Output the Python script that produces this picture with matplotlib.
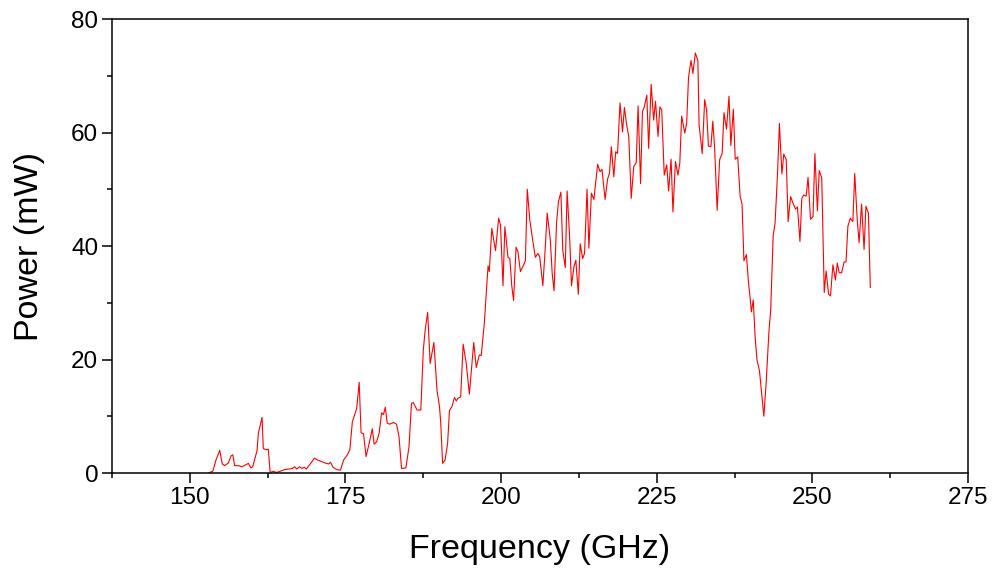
import matplotlib as mpl
import matplotlib.pyplot as plt
from matplotlib.ticker import MultipleLocator

mpl.rcParams.update(
    {
        "font.family": ["Liberation Sans", "DejaVu Sans"],
        "axes.linewidth": 1.1,
    }
)

# frequency (GHz) and power (mW)
freq = [
    153.1, 153.7, 154.2, 154.8, 155.2, 155.6, 156.2, 156.6, 156.9, 157.2,
    157.8, 158.4, 158.9, 159.4, 159.8, 160.1, 160.8, 161.0, 161.6, 161.8,
    162.3, 162.6, 162.9, 163.4, 163.9, 164.5, 165.2, 165.9, 166.5, 166.8,
    167.2, 167.6, 168.0, 168.4, 168.7, 169.2, 169.6, 170.0, 170.5, 171.2,
    171.9, 172.3, 172.6, 173.0, 173.6, 174.2, 174.7, 175.3, 175.7, 176.1,
    176.8, 177.2, 177.5, 177.9, 178.3, 178.8, 179.3, 179.6, 180.0, 180.4,
    180.8, 181.1, 181.4, 181.7, 182.1, 182.7, 183.2, 183.6, 184.0, 184.7,
    185.2, 185.6, 185.9, 186.5, 187.1, 187.5, 187.8, 188.2, 188.6, 188.8,
    189.2, 189.7, 190.1, 190.3, 190.6, 191.0, 191.4, 191.7, 192.1, 192.5,
    192.8, 193.1, 193.5, 193.9, 194.4, 194.9, 195.6, 196.0, 196.5, 196.8,
    197.3, 197.9, 198.1, 198.5, 199.1, 199.6, 199.9, 200.3, 200.6, 201.1,
    201.4, 201.7, 202.0, 202.4, 202.7, 203.1, 203.5, 203.9, 204.2, 204.6,
    205.1, 205.5, 205.9, 206.2, 206.7, 207.0, 207.4, 207.9, 208.2, 208.5,
    208.9, 209.2, 209.6, 209.9, 210.3, 210.6, 211.0, 211.3, 211.7, 212.0,
    212.4, 212.7, 213.1, 213.4, 213.8, 214.1, 214.5, 214.9, 215.5, 215.9,
    216.2, 216.7, 217.1, 217.4, 217.7, 218.1, 218.4, 218.7, 219.1, 219.5,
    219.8, 220.2, 220.5, 220.9, 221.3, 221.7, 222.0, 222.4, 222.7, 223.0,
    223.4, 223.7, 224.1, 224.5, 224.8, 225.2, 225.5, 225.8, 226.2, 226.6,
    226.9, 227.3, 227.6, 228.0, 228.4, 228.7, 229.0, 229.5, 229.8, 230.1,
    230.5, 230.8, 231.2, 231.6, 231.8, 232.3, 232.7, 233.0, 233.3, 233.7,
    234.0, 234.3, 234.5, 234.7, 235.1, 235.5, 235.8, 236.2, 236.6, 236.9,
    237.3, 237.6, 238.0, 238.4, 238.7, 239.0, 239.4, 239.7, 240.0, 240.2,
    240.5, 240.8, 241.1, 241.5, 242.2, 242.6, 243.0, 243.3, 243.7, 244.0,
    244.4, 244.7, 245.1, 245.4, 245.8, 246.1, 246.5, 246.9, 247.3, 247.6,
    248.0, 248.3, 248.6, 249.0, 249.3, 249.7, 250.1, 250.4, 250.8, 251.1,
    251.5, 251.9, 252.2, 252.6, 252.9, 253.3, 253.7, 254.0, 254.3, 254.7,
    255.1, 255.4, 255.7, 256.1, 256.5, 256.8, 257.2, 257.5, 257.9, 258.3,
    258.6, 259.0, 259.3,
]
power = [
    0.05, 0.35, 2.3, 4.0, 1.6, 1.3, 1.8, 3.0, 3.2, 1.3,
    1.3, 1.1, 1.4, 1.7, 0.9, 1.1, 4.0, 7.0, 9.8, 4.3,
    4.1, 4.2, 0.1, 0.3, 0.1, 0.3, 0.6, 0.7, 0.8, 1.1,
    0.7, 1.1, 0.8, 1.0, 0.7, 1.4, 2.0, 2.6, 2.3, 2.0,
    1.7, 1.6, 1.9, 1.0, 0.6, 0.5, 2.3, 3.2, 4.1, 9.0,
    11.4, 16.0, 7.1, 6.9, 2.9, 5.2, 7.8, 5.1, 5.5, 7.0,
    10.6, 10.3, 11.6, 8.8, 8.6, 8.9, 8.6, 6.4, 0.8, 0.9,
    4.6, 12.3, 12.4, 11.1, 11.1, 21.7, 25.2, 28.3, 19.3, 20.5,
    23.0, 14.6, 11.7, 8.8, 1.7, 2.3, 5.2, 11.0, 11.7, 13.3,
    12.7, 13.2, 13.4, 22.7, 19.3, 13.9, 23.0, 18.6, 20.8, 20.7,
    26.4, 36.5, 35.5, 43.1, 39.2, 44.9, 43.7, 33.0, 43.4, 38.0,
    37.8, 33.1, 30.4, 39.8, 39.0, 35.5, 36.4, 37.4, 50.0, 44.6,
    40.8, 38.0, 38.7, 38.1, 33.0, 38.1, 45.8, 41.1, 35.2, 32.1,
    44.0, 47.8, 49.5, 39.3, 36.2, 49.7, 41.6, 33.0, 36.4, 37.5,
    31.5, 40.4, 37.8, 38.7, 50.0, 39.6, 49.3, 48.2, 54.4, 53.1,
    53.5, 48.2, 51.8, 52.8, 57.5, 52.2, 56.6, 56.3, 65.2, 60.1,
    64.4, 61.1, 59.3, 48.4, 54.0, 54.7, 64.7, 51.0, 63.7, 64.5,
    66.6, 57.2, 68.5, 62.2, 65.5, 59.3, 64.5, 64.0, 52.5, 54.3,
    49.7, 55.3, 46.0, 54.9, 52.5, 54.6, 62.9, 59.9, 61.6, 69.7,
    72.7, 70.4, 74.0, 72.7, 61.3, 56.3, 65.8, 64.0, 57.6, 57.5,
    62.0, 57.2, 51.6, 46.3, 55.2, 56.3, 63.5, 60.6, 66.4, 57.7,
    64.1, 55.3, 55.7, 48.7, 47.4, 37.4, 38.5, 34.0, 30.8, 28.4,
    30.5, 24.0, 19.9, 18.0, 10.0, 16.4, 24.6, 28.7, 41.9, 44.0,
    52.8, 61.6, 52.7, 56.2, 55.2, 44.3, 48.7, 47.5, 46.5, 46.9,
    40.8, 48.4, 49.0, 48.8, 52.1, 44.7, 45.2, 56.3, 46.2, 53.3,
    52.0, 31.8, 35.6, 31.5, 31.2, 36.7, 34.0, 37.0, 35.3, 35.3,
    37.2, 37.2, 43.5, 44.9, 44.3, 52.8, 44.6, 40.6, 47.4, 39.4,
    47.0, 45.8, 32.7,
]

x_ticks = [150, 175, 200, 225, 250, 275]
y_ticks = [0, 20, 40, 60, 80]

fig = plt.figure(figsize=(9.95, 5.71), dpi=100)
ax = fig.add_axes([0.1126, 0.1716, 0.8603, 0.7951])
ax.plot(freq, power, color="#ff0000", lw=0.8)

ax.set_xlim(137.5, 275)
ax.set_ylim(0, 80)
ax.set_xticks(x_ticks)
ax.set_yticks(y_ticks)
ax.xaxis.set_minor_locator(MultipleLocator(12.5))
ax.yaxis.set_minor_locator(MultipleLocator(10))
ax.tick_params(which="major", direction="out", length=7, width=1.1, labelsize=17.5, pad=3)
ax.tick_params(which="minor", direction="out", length=3.5, width=1.1)

ax.set_xlabel("Frequency (GHz)", fontsize=24.5, labelpad=18)
ax.set_ylabel("Power (mW)", fontsize=24.5, labelpad=19)

fig.savefig("out.png", dpi=100)
